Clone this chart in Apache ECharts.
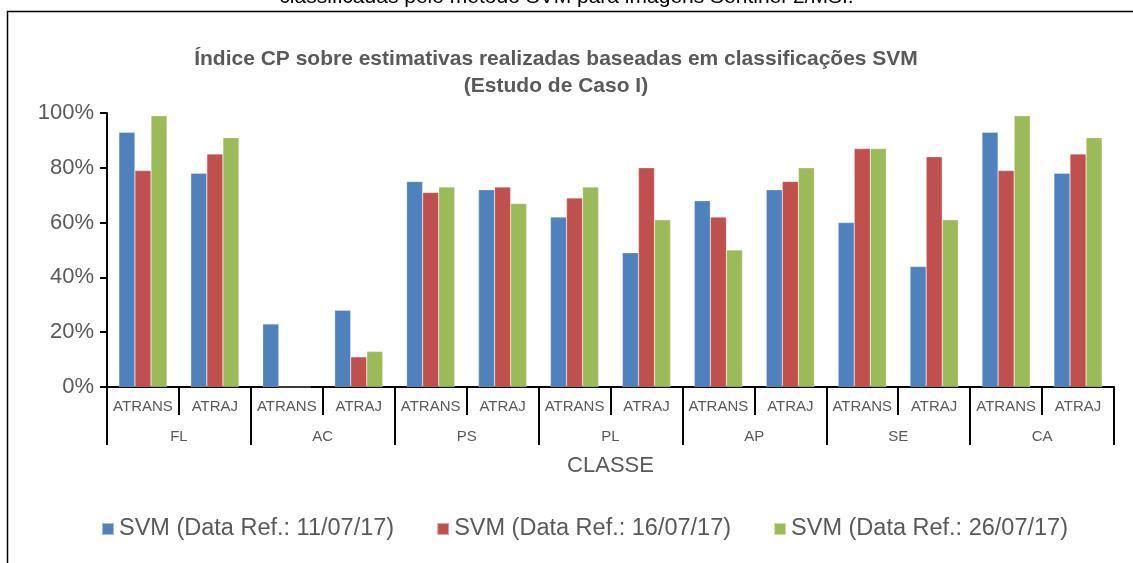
<!DOCTYPE html>
<html>
<head>
<meta charset="utf-8">
<script src="https://cdn.jsdelivr.net/npm/echarts@6/dist/echarts.min.js"></script>
<style>
  html, body { margin: 0; padding: 0; background: #fff; }
  #chart { width: 1133px; height: 563px; }
</style>
</head>
<body>
<div id="chart"></div>
<script>
// sub-categories (one per bar group) and their parent classes
const subCats = ['ATRANS', 'ATRAJ', 'ATRANS', 'ATRAJ', 'ATRANS', 'ATRAJ', 'ATRANS', 'ATRAJ',
                 'ATRANS', 'ATRAJ', 'ATRANS', 'ATRAJ', 'ATRANS', 'ATRAJ']
const classes = ['FL', 'AC', 'PS', 'PL', 'AP', 'SE', 'CA']

const seriesNames = ['SVM (Data Ref.: 11/07/17)', 'SVM (Data Ref.: 16/07/17)', 'SVM (Data Ref.: 26/07/17)']
const svm110717 = [93, 78, 23, 28, 75, 72, 62, 49, 68, 72, 60, 44, 93, 78]
const svm160717 = [79, 85, 0, 11, 71, 73, 69, 80, 62, 75, 87, 84, 79, 85]
const svm260717 = [99, 91, 0, 13, 73, 67, 73, 61, 50, 80, 87, 61, 99, 91]
const colors = ['#4f81bd', '#c0504d', '#9bbb59']

const txt = '#595959'
const font = 'Arial, "Liberation Sans", sans-serif'

let myChart = echarts.init(document.getElementById('chart'))

const bar = (name, data, color) => ({
    name: name,
    type: 'bar',
    data: data,
    barGap: '0%',
    barCategoryGap: '33%',
    itemStyle: { color: color, borderColor: 'rgba(255,255,255,0.5)', borderWidth: 0.5 }
})

myChart.setOption({
    animation: false,
    textStyle: { fontFamily: font },
    graphic: [
        {
            type: 'rect',
            shape: { x: 7.5, y: 11.5, width: 1140, height: 600 },
            style: { fill: 'none', stroke: '#000', lineWidth: 1.5 },
            z: 0
        },
        {
            type: 'text',
            left: 'center',
            top: -13,
            style: {
                text: 'classificadas pelo método SVM para imagens Sentinel-2/MSI.',
                fill: '#000',
                font: '21px Arial, "Liberation Sans", sans-serif'
            }
        }
    ],
    title: {
        text: 'Índice CP sobre estimativas realizadas baseadas em classificações SVM\n(Estudo de Caso I)',
        left: 551,
        top: 41,
        textAlign: 'center',
        textStyle: {
            fontFamily: font,
            fontWeight: 'bold',
            fontSize: 21,
            color: txt,
            lineHeight: 27
        }
    },
    legend: {
        bottom: 17,
        left: 96,
        itemWidth: 12,
        itemHeight: 12,
        itemGap: 42,
        icon: 'rect',
        textStyle: { fontSize: 23.5, color: txt, fontFamily: font },
        data: seriesNames
    },
    grid: {
        left: 107,
        right: 19,
        top: 113,
        bottom: 176,
        containLabel: false
    },
    xAxis: [
        {
            type: 'category',
            data: subCats,
            position: 'bottom',
            axisLine: { lineStyle: { color: '#000', width: 2 } },
            axisTick: { show: true, interval: 0, alignWithLabel: false, length: 28,
                        lineStyle: { color: '#000', width: 2 } },
            axisLabel: { color: txt, fontSize: 15, margin: 12, interval: 0 }
        },
        {
            type: 'category',
            data: classes,
            position: 'bottom',
            name: 'CLASSE',
            nameLocation: 'middle',
            nameGap: 68,
            nameTextStyle: { fontSize: 22, color: txt },
            axisLine: { show: false },
            axisTick: { show: true, interval: 0, alignWithLabel: false, length: 58,
                        lineStyle: { color: '#000', width: 2 } },
            axisLabel: { color: txt, fontSize: 15, margin: 42, interval: 0 }
        }
    ],
    yAxis: {
        type: 'value',
        min: 0,
        max: 100,
        interval: 20,
        axisLine: { show: true, lineStyle: { color: '#000', width: 2 } },
        axisTick: { show: true, length: 7, lineStyle: { color: '#000', width: 2 } },
        splitLine: { show: false },
        axisLabel: { formatter: '{value}%', color: txt, fontSize: 22, margin: 13 }
    },
    series: [
        bar(seriesNames[0], svm110717, colors[0]),
        bar(seriesNames[1], svm160717, colors[1]),
        bar(seriesNames[2], svm260717, colors[2])
    ]
})
</script>
</body>
</html>
